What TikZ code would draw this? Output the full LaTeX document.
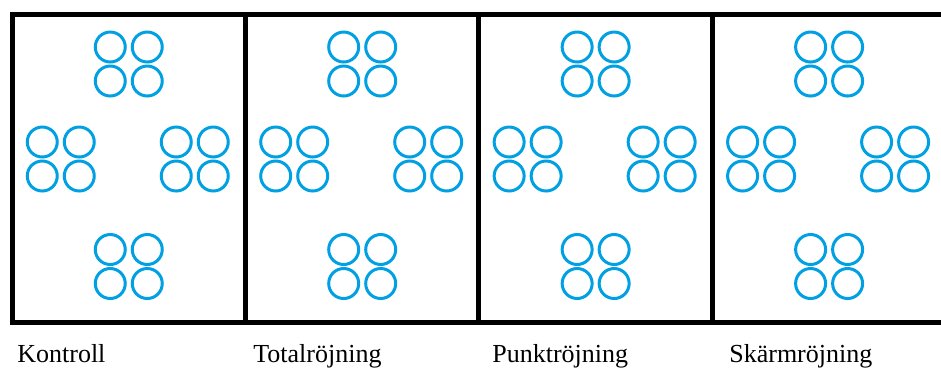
\documentclass[tikz,border=0pt]{standalone}
\usepackage{fontspec}
\setmainfont{Liberation Serif}
\usetikzlibrary{positioning,calc}
\definecolor{ringblue}{RGB}{0,160,227}

\begin{document}
\begin{tikzpicture}[
  x=0.02cm, y=-0.02cm,
  plot/.style={
    draw, rectangle, line width=0.1cm, outer sep=0pt, inner sep=0pt,
    minimum width=4.67cm, minimum height=6.16cm
  },
  ring/.style={
    draw=ringblue, circle, line width=0.06cm, inner sep=0pt, minimum size=0.6cm
  },
  treatment/.style={anchor=base west, inner sep=0pt, font=\fontsize{14.8}{17}\selectfont},
]

\useasboundingbox (0,0) rectangle (941,370);

\node[plot] (kontroll) at (128.75,168.5) {};
\node[plot, right=0pt of kontroll] (total) {};
\node[plot, right=0pt of total] (punkt) {};
\node[plot, right=0pt of punkt] (skarm) {};

% four groups of four rings in every plot
\foreach \p in {kontroll,total,punkt,skarm}{
  \foreach \g/\dx/\dy in {n/0/-104.5, w/-68/-9.5, e/66/-9.5, s/0/98}{
    \foreach \c/\ex/\ey in {a/-18.5/-17, b/18.5/-17, c/-18.5/17, d/18.5/17}{
      \node[ring] (\p-\g\c) at ($(\p.center)+(\dx,\dy)+(\ex,\ey)$) {};
    }
  }
}

\node[treatment] (kontroll-lbl) at (17,362) {Kontroll};
\node[treatment] (total-lbl) at (253,362) {Totalröjning};
\node[treatment] (punkt-lbl) at (492,362) {Punktröjning};
\node[treatment] (skarm-lbl) at (729,362) {Skärmröjning};

\end{tikzpicture}
\end{document}
